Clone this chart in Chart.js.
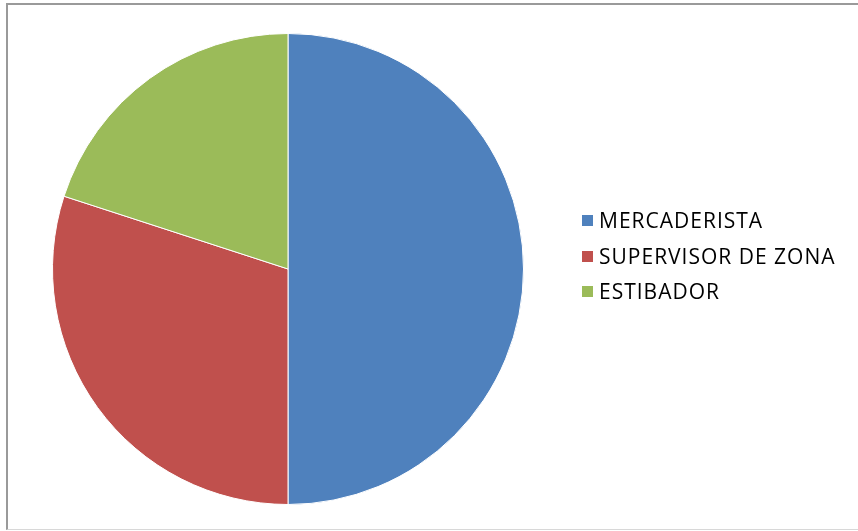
<!DOCTYPE html>
<html>
<head>
<meta charset="utf-8">
<script src="https://cdn.jsdelivr.net/npm/chart.js@4"></script>
<style>
  html, body { margin: 0; padding: 0; background: #fff; }
  #wrap { position: relative; width: 858px; height: 531px; overflow: hidden; }
  #frame {
    position: absolute; left: 6px; top: 3px; width: 880px; height: 524px;
    border-left: 2px solid #9a9a9a; border-top: 2px solid #9a9a9a;
    border-bottom: 1px solid #d8d8d8;
  }
  #myChart { position: absolute; left: 0; top: 0; }
  #legend {
    position: absolute; left: 582px; top: 203px;
    font-family: "Open Sans", Lato, sans-serif; font-size: 21px; letter-spacing: 1px; color: #000;
  }
  .item { height: 35.5px; display: flex; align-items: center; white-space: nowrap; line-height: 21px; }
  .box { width: 11px; height: 11px; margin: 0 6px 0 0; }
</style>
</head>
<body>
<div id="wrap">
  <div id="frame"></div>
  <canvas id="myChart" width="858" height="531"></canvas>
  <div id="legend"></div>
</div>
<script>
const labels = ['MERCADERISTA', 'SUPERVISOR DE ZONA', 'ESTIBADOR'];
const values = [50, 30, 20];
const colors = ['#4F81BD', '#C0504D', '#9BBB59'];

const ctx = document.getElementById('myChart').getContext('2d');
const data = {
  labels: labels,
  datasets: [{
    data: values,
    backgroundColor: colors,
    borderColor: '#ffffff',
    borderWidth: 1
  }]
};

const config = {
  type: 'pie',
  data: data,
  options: {
    responsive: false,
    animation: false,
    layout: {
      padding: { left: 52, right: 334, top: 33, bottom: 26 }
    },
    plugins: {
      legend: { display: false },
      tooltip: { enabled: false }
    }
  }
};

const myChart = new Chart(ctx, config);

// legend built from the same arrays
const legendDiv = document.getElementById('legend');
labels.forEach((label, i) => {
  const row = document.createElement('div');
  row.className = 'item';
  const box = document.createElement('span');
  box.className = 'box';
  box.style.background = colors[i];
  row.appendChild(box);
  row.appendChild(document.createTextNode(label));
  legendDiv.appendChild(row);
});
</script>
</body>
</html>
